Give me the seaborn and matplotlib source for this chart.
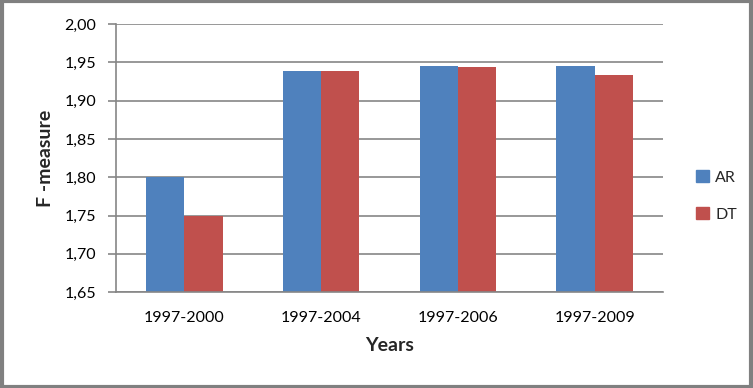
import matplotlib
matplotlib.use("Agg")
import matplotlib.pyplot as plt
import matplotlib.patches as mpatches
import matplotlib.ticker as mticker
import pandas as pd
import seaborn as sns

# data
years = ["1997-2000", "1997-2004", "1997-2006", "1997-2009"]
ar_values = [1.800, 1.939, 1.945, 1.945]
dt_values = [1.750, 1.939, 1.944, 1.933]
y_ticks = [1.65, 1.70, 1.75, 1.80, 1.85, 1.90, 1.95, 2.00]

df = pd.DataFrame({
    "Years": years * 2,
    "F-measure": ar_values + dt_values,
    "Method": ["AR"] * len(years) + ["DT"] * len(years),
})

sns.set_style("white")
plt.rcParams["font.family"] = ["Lato", "DejaVu Sans"]

fig = plt.figure(figsize=(7.53, 3.88), dpi=100)
ax = fig.add_axes([0.154, 0.247, 0.7265, 0.691])

grid_col = "#868686"
ax.set_axisbelow(True)
ax.yaxis.grid(True, color=grid_col, linewidth=1.2)

sns.barplot(data=df, x="Years", y="F-measure", hue="Method",
            palette={"AR": "#4F81BD", "DT": "#C0504D"},
            width=0.56, gap=0, saturation=1, linewidth=0,
            ax=ax, legend=False)

ax.set_ylim(1.65, 2.00)
ax.set_yticks(y_ticks)
ax.yaxis.set_major_formatter(mticker.FuncFormatter(lambda v, p: f"{v:.2f}".replace(".", ",")))
ax.set_xlim(-0.5, 3.5)

for s in ["top", "right"]:
    ax.spines[s].set_visible(False)
for s in ["left", "bottom"]:
    ax.spines[s].set_color(grid_col)
    ax.spines[s].set_linewidth(1.2)

ax.tick_params(axis="y", which="both", left=True, length=6, width=1.2,
               color=grid_col, labelsize=11.5, pad=8, labelcolor="black")
ax.tick_params(axis="x", bottom=False, labelsize=11.5, pad=10, labelcolor="black")

ax.set_xlabel("Years", fontsize=14, fontweight="bold", labelpad=9)
ax.set_ylabel("F -measure", fontsize=14, fontweight="bold", labelpad=8)

handles = [mpatches.Patch(color="#4F81BD", label="AR"),
           mpatches.Patch(color="#C0504D", label="DT")]
fig.legend(handles=handles, loc="center left", bbox_to_anchor=(0.905, 0.495),
           frameon=False, fontsize=11.5, handlelength=0.8, handleheight=0.8,
           handletextpad=0.4, labelspacing=1.4)

# outer frame around the chart
fig.patches.append(mpatches.Rectangle((0.002, 0.003), 0.995, 0.994,
                                      transform=fig.transFigure, fill=False,
                                      edgecolor="#808080", linewidth=3))

fig.savefig("out.png", dpi=100)
